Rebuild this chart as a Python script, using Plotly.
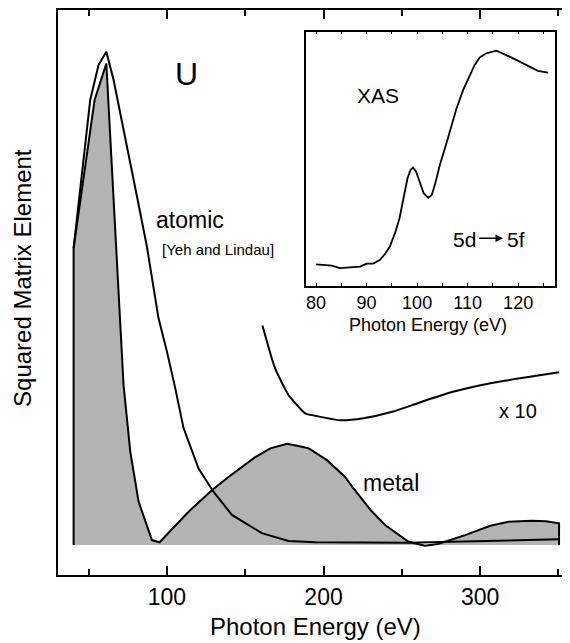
import plotly.graph_objects as go

# ---------------- data ----------------
# main panel: photon energy (eV) vs squared matrix element (arb. units)
atomic_E = [40.4, 51.0, 56.3, 61.3, 65.9, 73.4, 80.9, 87.2, 91.4, 94.6, 100.0, 105.3,
            110.6, 120.2, 129.7, 141.5, 160.6, 177.6, 194.7, 225.0, 254.2, 281.9, 320.0, 350.4]
atomic_v = [60.2, 90.2, 97.3, 100.0, 94.3, 82.1, 70.6, 60.5, 51.7, 46.0, 39.2, 31.8,
            23.7, 15.5, 10.8, 6.1, 2.4, 0.8, 0.55, 0.5, 0.47, 0.67, 0.9, 1.16]

metal_E = [40.4, 40.4, 53.8, 58.1, 61.3, 64.7, 69.1, 72.3, 76.6, 81.9, 90.4, 95.3,
           113.8, 128.7, 139.3, 155.9, 166.0, 176.7, 186.2, 190.6, 202.2, 213.8, 218.4,
           230.0, 239.3, 248.5, 254.3, 264.7, 273.0, 281.0, 290.4, 306.5, 318.1, 333.0,
           342.0, 350.4, 350.4]
metal_v = [0.0, 60.2, 90.2, 94.7, 97.6, 77.4, 51.7, 32.4, 18.9, 8.8, 1.0, 0.55,
           6.75, 11.1, 13.8, 17.7, 19.6, 20.5, 19.9, 19.6, 17.2, 13.8, 11.8,
           7.1, 4.05, 2.0, 0.67, -0.14, 0.2, 1.0, 2.0, 3.9, 4.7, 4.9,
           4.8, 4.4, 0.0]

xten_E = [161.0, 169.1, 177.6, 180.2, 188.3, 194.7, 210.3, 225.4, 243.9, 262.4,
          283.3, 306.5, 329.7, 350.5]
xten_v = [44.5, 35.8, 30.4, 29.4, 26.7, 26.2, 25.3, 25.7, 27.0, 29.0,
          31.1, 32.8, 34.0, 35.0]

main_ticks = [100, 200, 300]
main_minor = [50, 150, 250, 350]

# inset: XAS 5d -> 5f
xas_E = [80.0, 81.4, 83.1, 84.7, 86.1, 87.7, 88.7, 90.0, 91.3, 92.6, 93.6, 94.6, 95.6,
         96.5, 97.3, 98.1, 98.7, 99.2, 99.8, 100.6, 101.3, 102.2, 102.9, 103.5, 104.5,
         105.7, 106.8, 107.8, 109.1, 110.4, 111.4, 112.4, 113.7, 115.7, 117.0, 118.3,
         120.3, 122.3, 123.9, 125.9]
xas_v = [8.4, 8.1, 7.9, 6.9, 7.1, 7.2, 7.5, 8.7, 8.7, 10.1, 12.4, 15.4, 20.6,
         26.5, 34.4, 42.3, 45.6, 46.5, 44.9, 40.3, 36.4, 34.6, 35.7, 39.6, 47.5,
         55.4, 63.3, 69.8, 77.0, 83.0, 86.9, 89.9, 91.5, 92.5, 91.5, 90.2,
         88.2, 86.2, 84.6, 83.9]
inset_ticks = [80, 85, 90, 95, 100, 105, 110, 115, 120, 125]
inset_labels = ["80", "", "90", "", "100", "", "110", "", "120", ""]

# ---------------- figure ----------------
FONT = "Liberation Sans, Arial, Helvetica, sans-serif"
fig = go.Figure()

fig.add_trace(go.Scatter(x=metal_E, y=metal_v, mode="lines", fill="tozeroy",
                         fillcolor="#b3b3b3", line=dict(color="black", width=2),
                         xaxis="x", yaxis="y", showlegend=False))
fig.add_trace(go.Scatter(x=atomic_E, y=atomic_v, mode="lines",
                         line=dict(color="black", width=2),
                         xaxis="x", yaxis="y", showlegend=False))
fig.add_trace(go.Scatter(x=xten_E, y=xten_v, mode="lines",
                         line=dict(color="black", width=2, shape="spline", smoothing=0.6),
                         xaxis="x", yaxis="y", showlegend=False))
fig.add_trace(go.Scatter(x=xas_E, y=xas_v, mode="lines",
                         line=dict(color="black", width=1.8),
                         xaxis="x2", yaxis="y2", showlegend=False))

# the page body has an 8px default margin, so the figure is 8px smaller
fig.update_layout(
    width=562, height=635,
    margin=dict(l=50, r=0, t=2, b=68),
    paper_bgcolor="white", plot_bgcolor="white",
    font=dict(family=FONT, color="black"),
    xaxis=dict(domain=[0, 1], range=[30.43, 357.4], showgrid=False, zeroline=False,
               showline=True, linecolor="black", linewidth=2, mirror="allticks",
               ticks="inside", ticklen=9, tickwidth=1.5, tickcolor="black",
               tickvals=main_ticks, ticktext=[str(t) for t in main_ticks],
               tickfont=dict(size=23), ticklabelstandoff=0,
               minor=dict(tickvals=main_minor, ticks="inside", ticklen=6,
                          tickwidth=1.5, tickcolor="black", showgrid=False)),
    yaxis=dict(domain=[0, 1], range=[-6.08, 108.45], showgrid=False, zeroline=False,
               showline=True, linecolor="black", linewidth=1.5, mirror=False,
               ticks="", showticklabels=False),
    xaxis2=dict(domain=[0.4844, 0.9707], anchor="y2", range=[78.0, 127.3],
                showgrid=False, zeroline=False, showline=True, linecolor="black",
                linewidth=1.5, mirror="allticks", ticks="inside", ticklen=3,
                tickwidth=1, tickcolor="black", tickvals=inset_ticks,
                ticktext=inset_labels, tickfont=dict(size=18), ticklabelstandoff=0),
    yaxis2=dict(domain=[0.5120, 0.9616], anchor="x2", range=[0, 100],
                showgrid=False, zeroline=False, showline=True, linecolor="black",
                linewidth=1.5, mirror=True, ticks="", showticklabels=False),
)

def txt(text, x, y, size, xref="x", yref="y", **kw):
    fig.add_annotation(text=text, x=x, y=y, xref=xref, yref=yref, showarrow=False,
                       font=dict(size=size, family=FONT, color="black"),
                       xanchor="center", yanchor="middle", **kw)

txt("U", 112.2, 95.5, 32)
txt("atomic", 114.9, 65.9, 23)
txt("[Yeh and Lindau]", 132.6, 60.0, 15)
txt("x 10", 324.2, 27.1, 20)
txt("metal", 243.1, 12.6, 23)
txt("XAS", 92.2, 74.7, 21, xref="x2", yref="y2")
txt("5d", 109.4, 18.2, 21, xref="x2", yref="y2")
txt("5f", 119.5, 18.2, 21, xref="x2", yref="y2")
fig.add_annotation(x=117.0, y=18.7, ax=112.0, ay=18.7, xref="x2", yref="y2",
                   axref="x2", ayref="y2", text="", showarrow=True, arrowhead=2,
                   arrowsize=1, arrowwidth=1.5, arrowcolor="black")

# axis titles
txt("Photon Energy (eV)", 0.502, -0.0903, 24, xref="paper", yref="paper")
txt("Squared Matrix Element", -0.0684, 0.5257, 24, xref="paper", yref="paper",
    textangle=-90)
txt("Photon Energy (eV)", 0.7227, 0.4416, 18, xref="paper", yref="paper")

fig.write_html("out.html")
